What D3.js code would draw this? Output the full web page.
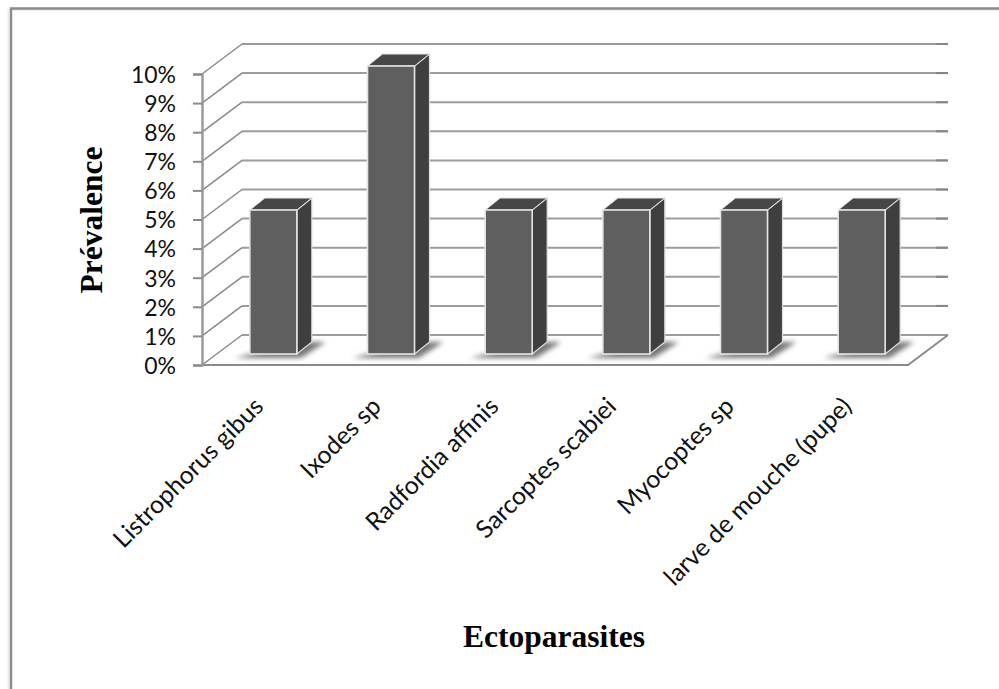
<!DOCTYPE html>
<html>
<head>
<meta charset="utf-8">
<script src="https://cdn.jsdelivr.net/npm/d3@7/dist/d3.min.js"></script>
<style>
  html, body { margin: 0; padding: 0; background: #fff; }
  svg { display: block; }
  .tick text { fill: #111; }
  .axisTitle { font-family: "Liberation Serif", serif; font-weight: bold; font-size: 31.5px; fill: #000; }
</style>
</head>
<body>
<div id="chart"></div>
<script>
const categories = ["Listrophorus gibus", "Ixodes sp", "Radfordia affinis", "Sarcoptes scabiei", "Myocoptes sp", "larve de mouche (pupe)"];
const prevalence = [5, 10, 5, 5, 5, 5];
const tickValues = [0, 1, 2, 3, 4, 5, 6, 7, 8, 9, 10];

const width = 999,
  height = 689,
  plotLeft = 202,
  plotRight = 908,
  plotBottom = 365,
  plotTop = 74,
  wallDx = 40,
  wallDy = -30,
  barDx = 15,
  barDy = -12,
  labelFont = "Lato, Carlito, sans-serif";

const xScale = d3.scaleBand().domain(categories).range([plotLeft, plotRight]);
const yScale = d3.scaleLinear().domain([0, 10]).range([plotBottom, plotTop]);
// bars stand in the middle of the floor, so they sit a little higher than the axis
const barY = d3.scaleLinear().domain([0, 10]).range([354, 66]);
const barWidth = 47;
const barX = d => xScale(d) + xScale.bandwidth() / 2 - barWidth / 2 + 12.5;

const svg = d3.select("#chart").append("svg")
  .attr("width", width)
  .attr("height", height)
  .attr("viewBox", [0, 0, width, height].join(" "));

const defs = svg.append("defs");
defs.append("filter").attr("id", "blur").attr("x", "-20%").attr("y", "-50%").attr("width", "140%").attr("height", "200%")
  .append("feGaussianBlur").attr("stdDeviation", 2.5);

// page frame (only top and left edges show)
svg.append("path").attr("d", "M8.5,689V10H999").attr("fill", "none").attr("stroke", "#ececec").attr("stroke-width", 2);
svg.append("path").attr("d", "M11,689V8.5H999").attr("fill", "none").attr("stroke", "#8a8a8a").attr("stroke-width", 2.4);

// gridlines on back wall + side wall
const grid = svg.append("g");
grid.selectAll(".backLine").data(tickValues).enter().append("line")
  .attr("class", "backLine")
  .attr("x1", plotLeft + wallDx).attr("x2", plotRight + wallDx)
  .attr("y1", d => yScale(d) + wallDy).attr("y2", d => yScale(d) + wallDy)
  .attr("stroke", "#9c9c9c").attr("stroke-width", 2);
// the last stretch of each gridline is a bit darker
grid.selectAll(".backEnd").data(tickValues.slice(1)).enter().append("line")
  .attr("class", "backEnd")
  .attr("x1", plotRight + wallDx - 12).attr("x2", plotRight + wallDx)
  .attr("y1", d => yScale(d) + wallDy).attr("y2", d => yScale(d) + wallDy)
  .attr("stroke", "#858585").attr("stroke-width", 2);
grid.selectAll(".sideLine").data(tickValues).enter().append("line")
  .attr("class", "sideLine")
  .attr("x1", plotLeft).attr("x2", plotLeft + wallDx)
  .attr("y1", d => yScale(d)).attr("y2", d => yScale(d) + wallDy)
  .attr("stroke", "#8a8a8a").attr("stroke-width", 1.5);

// floor
grid.append("path")
  .attr("d", `M${plotLeft},${plotBottom}H${plotRight}L${plotRight + wallDx},${plotBottom + wallDy}`)
  .attr("fill", "none").attr("stroke", "#8a8a8a").attr("stroke-width", 2);

// axes
const yAxis = svg.append("g")
  .attr("transform", `translate(${plotLeft},0)`)
  .call(d3.axisLeft(yScale).tickValues(tickValues).tickFormat(d => d + "%").tickSize(9).tickPadding(17));
yAxis.select(".domain").attr("stroke", "#9a9a9a").attr("stroke-width", 2.5);
yAxis.selectAll("line").attr("stroke", "#8a8a8a").attr("stroke-width", 2);
yAxis.selectAll("text").attr("font-family", labelFont).attr("font-size", 23).attr("y", 1);

const xAxis = svg.append("g")
  .attr("transform", `translate(0,${plotBottom})`)
  .call(d3.axisBottom(xScale).tickSize(0).tickPadding(0));
xAxis.select(".domain").remove();
xAxis.selectAll("text")
  .attr("font-family", labelFont).attr("font-size", 24.8)
  .attr("text-anchor", "end")
  .attr("dy", 0).attr("y", 0)
  .attr("transform", "translate(4,43) rotate(-45)");

// bars
const bars = svg.append("g").selectAll(".bar")
  .data(categories.map((c, i) => ({ category: c, value: prevalence[i] })))
  .enter().append("g").attr("class", "bar");

bars.append("polygon")
  .attr("points", d => {
    const x = barX(d.category), y0 = barY(0);
    return [[x - 15, y0 + 4], [x + barWidth + 4, y0 + 4], [x + barWidth + barDx + 14, y0 + barDy], [x + barWidth, y0 + barDy]].join(" ");
  })
  .attr("fill", "#777").attr("filter", "url(#blur)");

bars.append("polygon")
  .attr("points", d => {
    const x = barX(d.category) + barWidth, y0 = barY(0), y1 = barY(d.value);
    return [[x, y0], [x + barDx, y0 + barDy], [x + barDx, y1 + barDy], [x, y1]].join(" ");
  })
  .attr("fill", "#3f3f3f").attr("stroke", "#dcdcdc").attr("stroke-width", 1.2);

bars.append("polygon")
  .attr("points", d => {
    const x = barX(d.category), y1 = barY(d.value);
    return [[x, y1], [x + barWidth, y1], [x + barWidth + barDx, y1 + barDy], [x + barDx, y1 + barDy]].join(" ");
  })
  .attr("fill", "#474747").attr("stroke", "#e6e6e6").attr("stroke-width", 1);

bars.append("rect")
  .attr("x", d => barX(d.category))
  .attr("y", d => barY(d.value))
  .attr("width", barWidth)
  .attr("height", d => barY(0) - barY(d.value))
  .attr("fill", "#5f5f5f").attr("stroke", "#e4e4e4").attr("stroke-width", 1.6);

// axis titles
svg.append("text").attr("class", "axisTitle")
  .attr("text-anchor", "middle")
  .attr("transform", "translate(102,220) rotate(-90)")
  .text("Prévalence");
svg.append("text").attr("class", "axisTitle")
  .attr("text-anchor", "middle")
  .attr("x", 554).attr("y", 647)
  .text("Ectoparasites");
</script>
</body>
</html>
